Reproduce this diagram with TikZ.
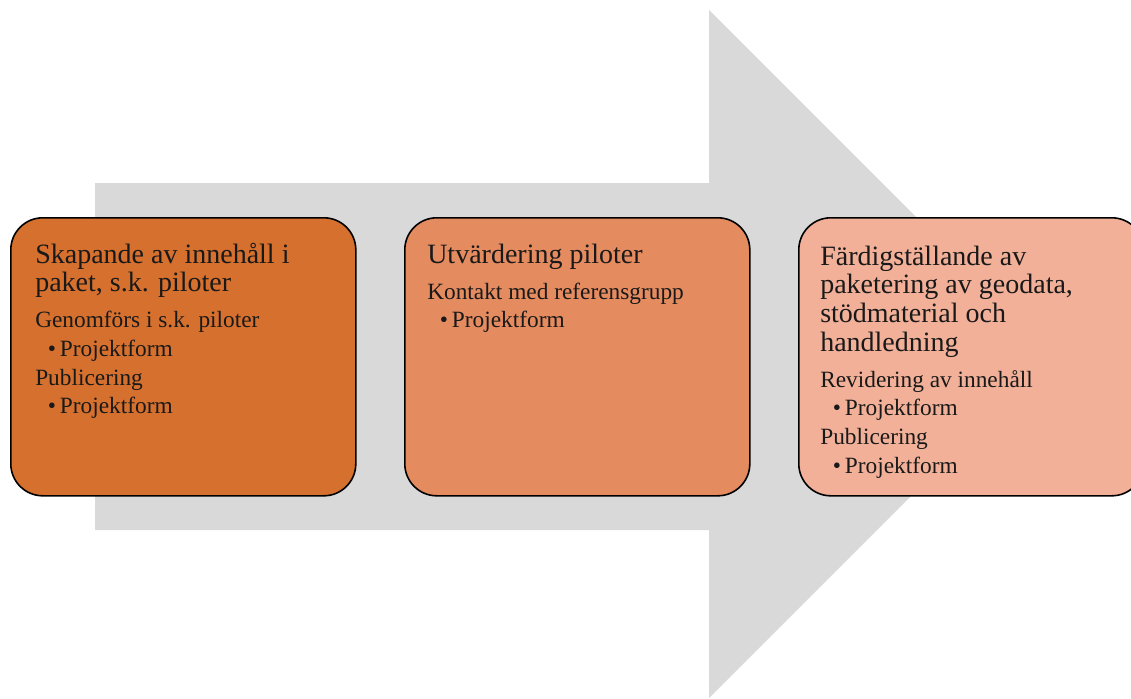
\documentclass[tikz,border=0pt]{standalone}
\usepackage{fontspec}
\setmainfont{Liberation Serif}
\usetikzlibrary{positioning}

\tikzset{
  fasbox/.style={draw=black, line width=1.2pt, rounded corners=24pt, anchor=north west,
    minimum width=258.75pt, minimum height=208.5pt, inner sep=0pt},
  fastext/.style={anchor=base west, inner sep=0pt, text=black!90},
}
\newcommand{\fasrubrik}[1]{{\fontsize{21}{21.5}\selectfont #1\par}\vspace{5.5pt}}
\newcommand{\faspunkt}[1]{\hspace*{9.5pt}\makebox[9pt][l]{\textbullet}#1}

\begin{document}
\begin{tikzpicture}[x=0.75pt,y=0.75pt,yscale=-1,xscale=1]
\useasboundingbox (0,0) rectangle (1131,699);
\clip (0,0) rectangle (1131,699);
%Shape: Right Arrow
\fill [color={rgb, 255:red, 217; green, 217; blue, 217 }] (95,183) -- (709,183) -- (709,10) -- (1053,354) -- (709,698) -- (709,530) -- (95,530) -- cycle ;
%Shape: Rounded Rect
\node [fasbox, fill={rgb, 255:red, 214; green, 112; blue, 46 }] (skapande) at (10,217) {};
\node [fasbox, fill={rgb, 255:red, 229; green, 139; blue, 96 }] (utvardering) at (404,217) {};
\node [fasbox, fill={rgb, 255:red, 242; green, 176; blue, 152 }] (fardig) at (798,217) {};
%Text
\node [fastext] (skapandeText) at (35,263) {\parbox[t]{320pt}{\raggedright
  \fasrubrik{Skapande av innehåll i\\paket, s.k. piloter}
  \fontsize{17.5}{21.5}\selectfont
  Genomförs i s.k. piloter\\
  \faspunkt{Projektform}\\
  Publicering\\
  \faspunkt{Projektform}\par}};
\node [fastext] (utvarderingText) at (427,263) {\parbox[t]{320pt}{\raggedright
  \fasrubrik{Utvärdering piloter}
  \fontsize{17.5}{21.5}\selectfont
  Kontakt med referensgrupp\\
  \faspunkt{Projektform}\par}};
\node [fastext] (fardigText) at (820,265) {\parbox[t]{320pt}{\raggedright
  \fasrubrik{Färdigställande av\\paketering av geodata,\\stödmaterial och\\handledning}
  \fontsize{17.5}{21.5}\selectfont
  Revidering av innehåll\\
  \faspunkt{Projektform}\\
  Publicering\\
  \faspunkt{Projektform}\par}};
\end{tikzpicture}
\end{document}
